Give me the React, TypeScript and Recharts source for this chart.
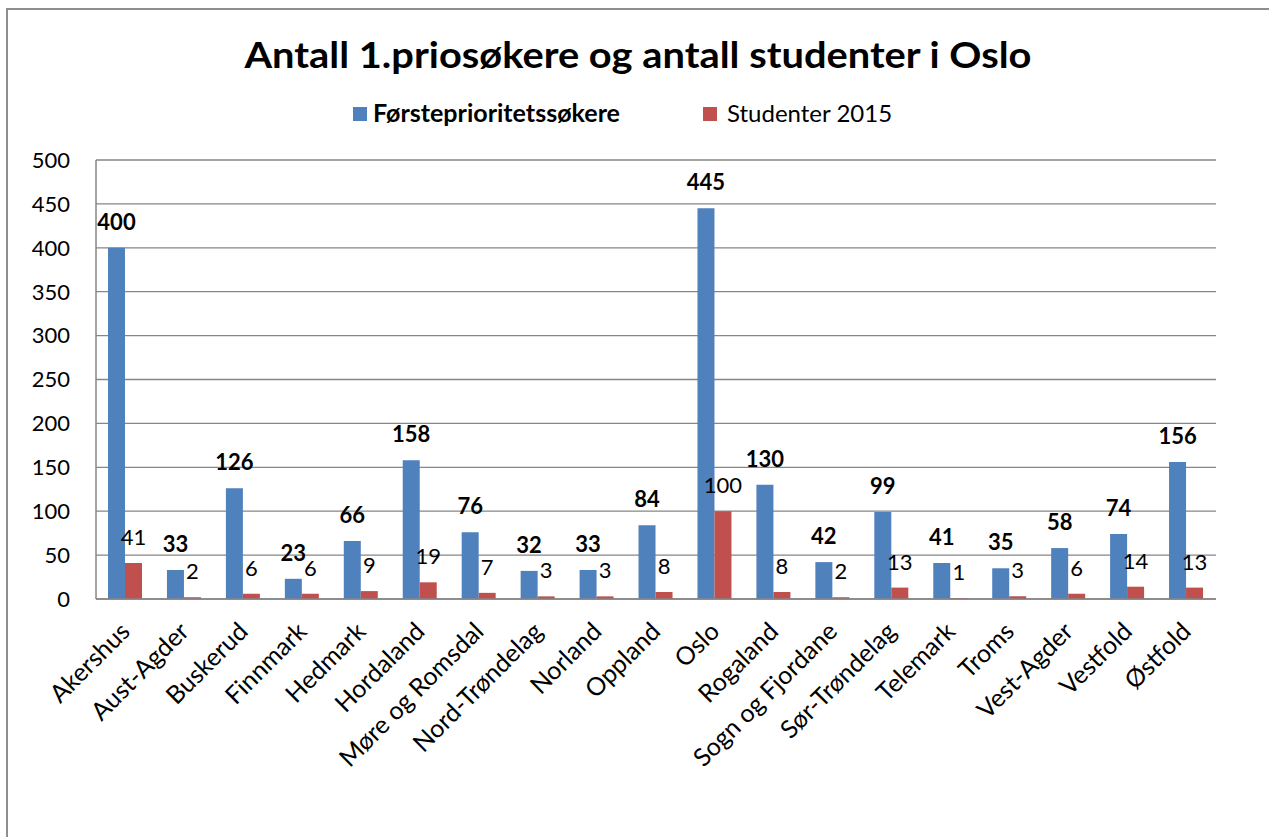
import React from 'react';
import { BarChart, Bar, XAxis, YAxis, CartesianGrid } from 'recharts';

const categories = [
  'Akershus', 'Aust-Agder', 'Buskerud', 'Finnmark', 'Hedmark', 'Hordaland',
  'Møre og Romsdal', 'Nord-Trøndelag', 'Norland', 'Oppland', 'Oslo', 'Rogaland',
  'Sogn og Fjordane', 'Sør-Trøndelag', 'Telemark', 'Troms', 'Vest-Agder', 'Vestfold', 'Østfold',
];
const firstPriority = [400, 33, 126, 23, 66, 158, 76, 32, 33, 84, 445, 130, 42, 99, 41, 35, 58, 74, 156];
const students2015 = [41, 2, 6, 6, 9, 19, 7, 3, 3, 8, 100, 8, 2, 13, 1, 3, 6, 14, 13];
const yTicks = [0, 50, 100, 150, 200, 250, 300, 350, 400, 450, 500];
const chartTitle = 'Antall 1.priosøkere og antall studenter i Oslo';
const seriesNames = ['Førsteprioritetssøkere', 'Studenter 2015'];

const BLUE = '#4F81BD';
const RED = '#C0504D';
const GRID = '#868686';
const FONT = 'Lato, "Open Sans", sans-serif';

const data = categories.map((name, i) => ({
  name,
  first: firstPriority[i],
  students: students2015[i],
}));

const makeLabel = (bold: boolean) => (props: any) => {
  const { x, y, width, value } = props;
  return (
    <text
      x={Number(x) + Number(width) / 2}
      y={Number(y) - 18}
      textAnchor="middle"
      fontFamily={FONT}
      fontSize={22}
      fontWeight={bold ? 700 : 400}
      fill="#000"
    >
      {value}
    </text>
  );
};

const XTick = (props: any) => {
  const { x, y, payload } = props;
  const ax = Number(x) + 6;
  const ay = Number(y) + 34;
  return (
    <text
      x={ax}
      y={ay}
      textAnchor="end"
      transform={`rotate(-45, ${ax}, ${ay})`}
      fontFamily={FONT}
      fontSize={25}
      fill="#000"
    >
      {payload.value}
    </text>
  );
};

export default function App() {
  return (
    <div
      style={{
        position: 'absolute',
        left: 0,
        top: 0,
        width: 1269,
        height: 837,
        overflow: 'hidden',
        background: '#fff',
      }}
    >
      <div
        style={{
          position: 'absolute',
          left: 6,
          top: 8,
          width: 1400,
          height: 1000,
          border: '2px solid #8e8e8e',
          boxSizing: 'border-box',
        }}
      />
      <div style={{ position: 'absolute', left: 0, top: 0 }}>
        <BarChart
          width={1269}
          height={837}
          data={data}
          margin={{ top: 160, right: 53, left: 16, bottom: 38 }}
          barGap={0}
        >
          <CartesianGrid vertical={false} stroke={GRID} strokeWidth={1.3} />
          <XAxis
            dataKey="name"
            interval={0}
            height={200}
            tickLine={false}
            tickSize={0}
            tickMargin={0}
            axisLine={{ stroke: GRID, strokeWidth: 1.5 }}
            tick={<XTick />}
          />
          <YAxis
            width={80}
            domain={[0, 500]}
            ticks={yTicks}
            interval={0}
            tickLine={false}
            tickSize={0}
            tickMargin={26}
            axisLine={{ stroke: GRID, strokeWidth: 1.5 }}
            tick={{ fontFamily: FONT, fontSize: 22, fill: '#000' }}
          />
          <Bar dataKey="first" fill={BLUE} barSize={17} isAnimationActive={false} label={makeLabel(true)} />
          <Bar dataKey="students" fill={RED} barSize={17} isAnimationActive={false} label={makeLabel(false)} />
        </BarChart>
      </div>
      <svg
        width={1269}
        height={150}
        style={{ position: 'absolute', left: 0, top: 0, pointerEvents: 'none' }}
      >
        <text
          x={638}
          y={68}
          textAnchor="middle"
          fontFamily={FONT}
          fontSize={37}
          fontWeight={700}
          fill="#000"
          textLength={787}
          lengthAdjust="spacingAndGlyphs"
        >
          {chartTitle}
        </text>
        <rect x={353} y={107} width={14} height={14} fill={BLUE} />
        <text
          x={373}
          y={122}
          fontFamily={FONT}
          fontSize={24}
          fontWeight={700}
          fill="#000"
          textLength={247}
          lengthAdjust="spacingAndGlyphs"
        >
          {seriesNames[0]}
        </text>
        <rect x={703} y={107} width={14} height={14} fill={RED} />
        <text x={727} y={122} fontFamily={FONT} fontSize={24} fill="#000">
          {seriesNames[1]}
        </text>
      </svg>
    </div>
  );
}
